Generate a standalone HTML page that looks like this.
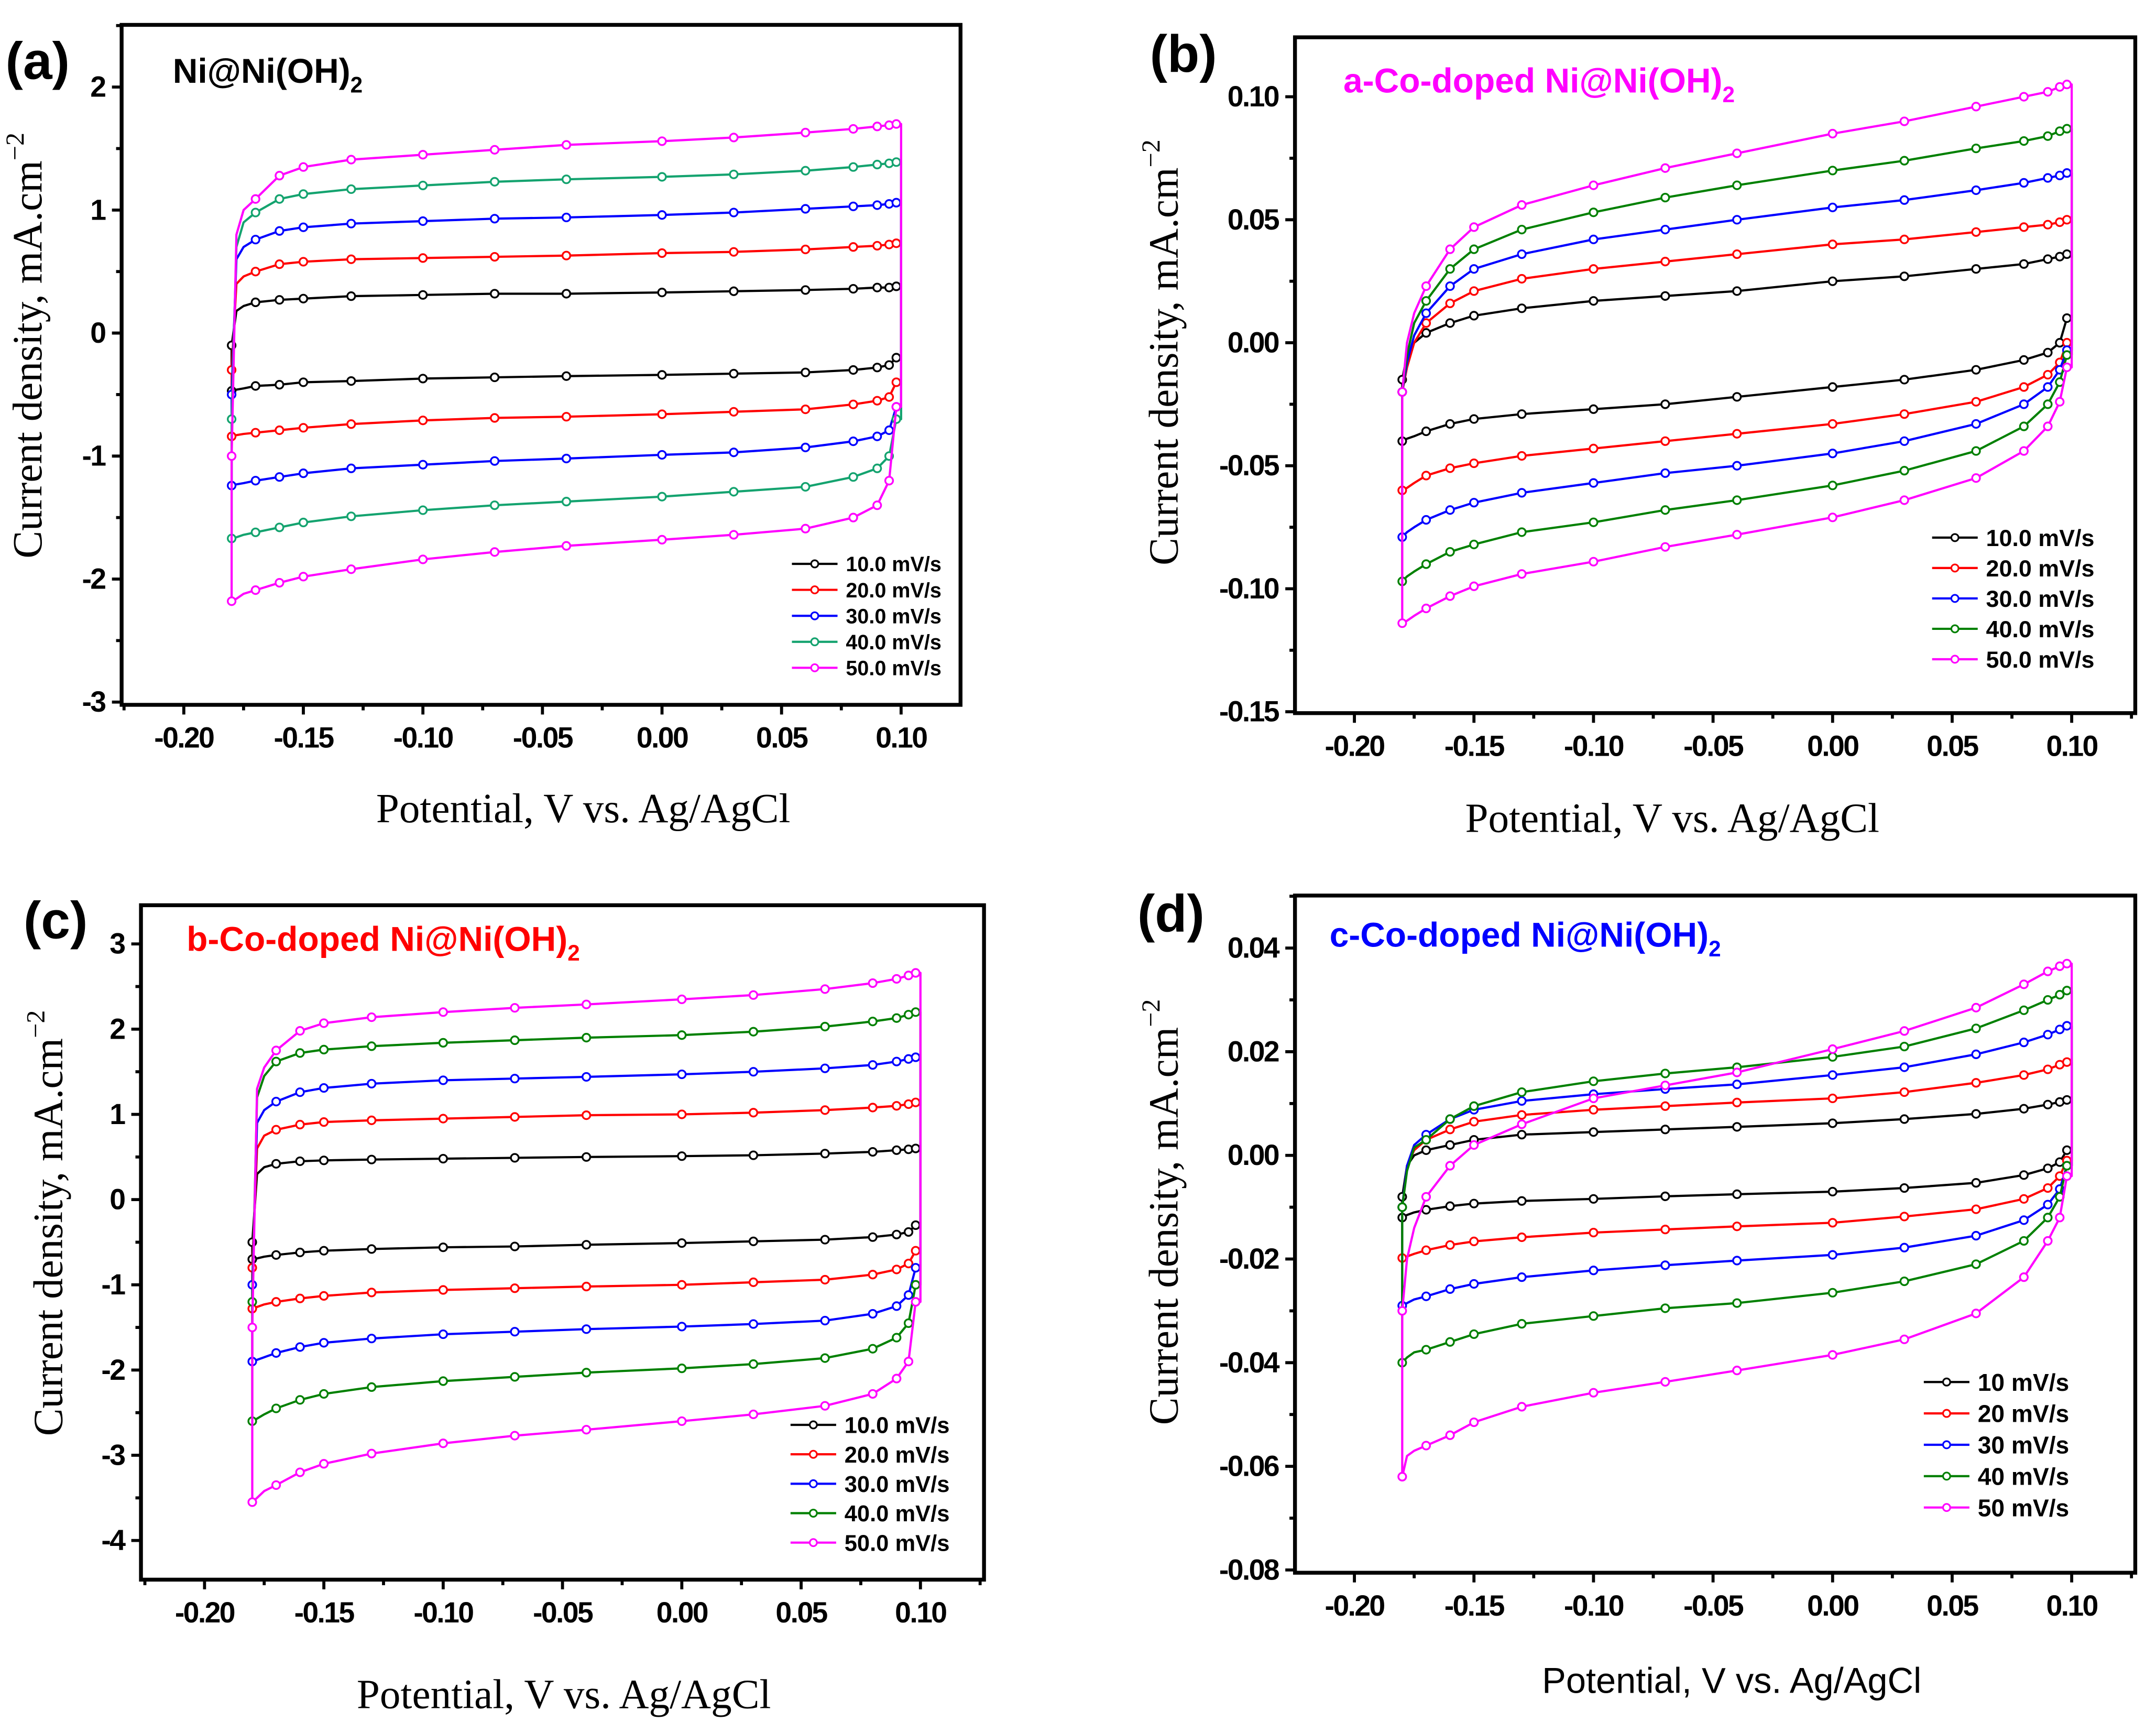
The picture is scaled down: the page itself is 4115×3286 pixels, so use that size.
<!DOCTYPE html>
<html><head><meta charset="utf-8">
<style>
html,body{margin:0;padding:0;background:#fff;}
svg{display:block;}
text{font-family:"Liberation Sans",sans-serif;}
.tk{font-weight:bold;font-size:21px;letter-spacing:-1px;}
.ser{font-family:"Liberation Serif",serif;}
</style></head>
<body>
<svg id="fig" width="4115" height="3286" viewBox="0 0 1560 1246" preserveAspectRatio="none" xmlns="http://www.w3.org/2000/svg">
<rect x="0" y="0" width="1560" height="1246" fill="#fff"/>
</svg>
<script>
const X = [-0.18,-0.178,-0.175,-0.17,-0.16,-0.15,-0.13,-0.1,-0.07,-0.04,0,0.03,0.06,0.08,0.09,0.095,0.098];
// Panel a
const aBlackUp=[-0.1,0.18,0.22,0.25,0.27,0.28,0.30,0.31,0.32,0.32,0.33,0.34,0.35,0.36,0.37,0.37,0.38];
const aBlackLo=[-0.47,-0.46,-0.45,-0.43,-0.42,-0.40,-0.39,-0.37,-0.36,-0.35,-0.34,-0.33,-0.32,-0.30,-0.28,-0.26,-0.2];
const aRedUp=[-0.3,0.4,0.46,0.5,0.56,0.58,0.6,0.61,0.62,0.63,0.65,0.66,0.68,0.70,0.71,0.72,0.73];
const aRedLo=[-0.84,-0.83,-0.82,-0.81,-0.79,-0.77,-0.74,-0.71,-0.69,-0.68,-0.66,-0.64,-0.62,-0.58,-0.55,-0.52,-0.4];
const aBlueUp=[-0.5,0.6,0.7,0.76,0.83,0.86,0.89,0.91,0.93,0.94,0.96,0.98,1.01,1.03,1.04,1.05,1.06];
const aBlueLo=[-1.24,-1.23,-1.22,-1.2,-1.17,-1.14,-1.1,-1.07,-1.04,-1.02,-0.99,-0.97,-0.93,-0.88,-0.84,-0.79,-0.6];
const aGreenUp=[-0.7,0.7,0.9,0.98,1.09,1.13,1.17,1.2,1.23,1.25,1.27,1.29,1.32,1.35,1.37,1.38,1.39];
const aGreenLo=[-1.67,-1.66,-1.64,-1.62,-1.58,-1.54,-1.49,-1.44,-1.40,-1.37,-1.33,-1.29,-1.25,-1.17,-1.1,-1.0,-0.7];
const aMagUp=[-1.0,0.8,1.0,1.09,1.28,1.35,1.41,1.45,1.49,1.53,1.56,1.59,1.63,1.66,1.68,1.69,1.70];
const aMagLo=[-2.18,-2.16,-2.12,-2.09,-2.03,-1.98,-1.92,-1.84,-1.78,-1.73,-1.68,-1.64,-1.59,-1.5,-1.4,-1.2,-0.6];
// Panel b
const bBlackUp=[-0.015,-0.005,0.0,0.004,0.008,0.011,0.014,0.017,0.019,0.021,0.025,0.027,0.03,0.032,0.034,0.035,0.036];
const bBlackLo=[-0.04,-0.039,-0.038,-0.036,-0.033,-0.031,-0.029,-0.027,-0.025,-0.022,-0.018,-0.015,-0.011,-0.007,-0.004,0.0,0.01];
const bRedUp=[-0.02,-0.01,0.0,0.008,0.016,0.021,0.026,0.030,0.033,0.036,0.040,0.042,0.045,0.047,0.048,0.049,0.050];
const bRedLo=[-0.06,-0.059,-0.057,-0.054,-0.051,-0.049,-0.046,-0.043,-0.040,-0.037,-0.033,-0.029,-0.024,-0.018,-0.013,-0.008,0.0];
const bBlueUp=[-0.02,-0.008,0.003,0.012,0.023,0.030,0.036,0.042,0.046,0.050,0.055,0.058,0.062,0.065,0.067,0.068,0.069];
const bBlueLo=[-0.079,-0.077,-0.075,-0.072,-0.068,-0.065,-0.061,-0.057,-0.053,-0.050,-0.045,-0.040,-0.033,-0.025,-0.018,-0.011,-0.003];
const bGreenUp=[-0.02,-0.005,0.008,0.017,0.030,0.038,0.046,0.053,0.059,0.064,0.070,0.074,0.079,0.082,0.084,0.086,0.087];
const bGreenLo=[-0.097,-0.095,-0.093,-0.09,-0.085,-0.082,-0.077,-0.073,-0.068,-0.064,-0.058,-0.052,-0.044,-0.034,-0.025,-0.016,-0.005];
const bMagUp=[-0.02,0.0,0.012,0.023,0.038,0.047,0.056,0.064,0.071,0.077,0.085,0.090,0.096,0.100,0.102,0.104,0.105];
const bMagLo=[-0.114,-0.113,-0.111,-0.108,-0.103,-0.099,-0.094,-0.089,-0.083,-0.078,-0.071,-0.064,-0.055,-0.044,-0.034,-0.024,-0.01];
// Panel c
const cBlackUp=[-0.5,0.3,0.38,0.42,0.45,0.46,0.47,0.48,0.49,0.5,0.51,0.52,0.54,0.56,0.58,0.59,0.6];
const cBlackLo=[-0.7,-0.69,-0.67,-0.65,-0.62,-0.6,-0.58,-0.56,-0.55,-0.53,-0.51,-0.49,-0.47,-0.44,-0.41,-0.38,-0.3];
const cRedUp=[-0.8,0.6,0.75,0.82,0.88,0.91,0.93,0.95,0.97,0.99,1.0,1.02,1.05,1.08,1.1,1.12,1.14];
const cRedLo=[-1.28,-1.26,-1.23,-1.2,-1.16,-1.13,-1.09,-1.06,-1.04,-1.02,-1.0,-0.97,-0.94,-0.88,-0.82,-0.75,-0.6];
const cBlueUp=[-1.0,0.9,1.05,1.15,1.26,1.31,1.36,1.4,1.42,1.44,1.47,1.5,1.54,1.58,1.62,1.65,1.67];
const cBlueLo=[-1.9,-1.88,-1.85,-1.8,-1.73,-1.68,-1.63,-1.58,-1.55,-1.52,-1.49,-1.46,-1.42,-1.34,-1.25,-1.12,-0.8];
const cGreenUp=[-1.2,1.2,1.45,1.62,1.72,1.76,1.8,1.84,1.87,1.9,1.93,1.97,2.03,2.09,2.13,2.17,2.2];
const cGreenLo=[-2.6,-2.57,-2.52,-2.45,-2.35,-2.28,-2.2,-2.13,-2.08,-2.03,-1.98,-1.93,-1.86,-1.75,-1.62,-1.45,-1.0];
const cMagUp=[-1.5,1.3,1.55,1.75,1.98,2.07,2.14,2.2,2.25,2.29,2.35,2.4,2.47,2.54,2.59,2.63,2.66];
const cMagLo=[-3.55,-3.5,-3.42,-3.35,-3.2,-3.1,-2.98,-2.86,-2.77,-2.7,-2.6,-2.52,-2.42,-2.28,-2.1,-1.9,-1.2];
// Panel d
const dBlackUp=[-0.008,-0.002,0.0,0.001,0.002,0.003,0.004,0.0045,0.005,0.0055,0.0062,0.007,0.008,0.009,0.0098,0.0103,0.0107];
const dBlackLo=[-0.012,-0.0115,-0.011,-0.0105,-0.0098,-0.0093,-0.0088,-0.0084,-0.0079,-0.0075,-0.007,-0.0063,-0.0053,-0.0038,-0.0025,-0.0013,0.001];
const dRedUp=[-0.01,-0.002,0.001,0.003,0.005,0.0065,0.0078,0.0088,0.0095,0.0102,0.011,0.0122,0.014,0.0155,0.0166,0.0175,0.018];
const dRedLo=[-0.0198,-0.0195,-0.019,-0.0183,-0.0173,-0.0166,-0.0158,-0.0149,-0.0143,-0.0137,-0.013,-0.0118,-0.0104,-0.0084,-0.0063,-0.004,-0.001];
const dBlueUp=[-0.01,-0.002,0.002,0.004,0.007,0.0088,0.0105,0.0118,0.0128,0.0137,0.0155,0.017,0.0195,0.0218,0.0233,0.0243,0.025];
const dBlueLo=[-0.029,-0.0285,-0.0278,-0.0272,-0.0258,-0.0248,-0.0235,-0.0222,-0.0212,-0.0203,-0.0192,-0.0178,-0.0155,-0.0125,-0.0095,-0.0065,-0.002];
const dGreenUp=[-0.01,-0.003,0.0015,0.003,0.007,0.0095,0.0122,0.0143,0.0158,0.017,0.019,0.021,0.0245,0.028,0.03,0.031,0.0318];
const dGreenLo=[-0.040,-0.039,-0.038,-0.0375,-0.036,-0.0345,-0.0325,-0.031,-0.0295,-0.0285,-0.0265,-0.0243,-0.021,-0.0165,-0.012,-0.008,-0.002];
const dMagUp=[-0.03,-0.02,-0.014,-0.008,-0.002,0.002,0.006,0.011,0.0135,0.016,0.0205,0.024,0.0285,0.033,0.0355,0.0365,0.037];
const dMagLo=[-0.062,-0.058,-0.057,-0.056,-0.054,-0.0515,-0.0485,-0.0458,-0.0437,-0.0415,-0.0385,-0.0355,-0.0305,-0.0235,-0.0165,-0.012,-0.004];

const xTickLabels=["-0.20","-0.15","-0.10","-0.05","0.00","0.05","0.10"];
const xTickVals=[-0.2,-0.15,-0.1,-0.05,0,0.05,0.1];
const aYTicks=[-3,-2,-1,0,1,2]; const aYLabels=["-3","-2","-1","0","1","2"];
const bYTicks=[-0.15,-0.1,-0.05,0,0.05,0.1]; const bYLabels=["-0.15","-0.10","-0.05","0.00","0.05","0.10"];
const cYTicks=[-4,-3,-2,-1,0,1,2,3]; const cYLabels=["-4","-3","-2","-1","0","1","2","3"];
const dYTicks=[-0.08,-0.06,-0.04,-0.02,0,0.02,0.04]; const dYLabels=["-0.08","-0.06","-0.04","-0.02","0.00","0.02","0.04"];
const legA=["10.0 mV/s","20.0 mV/s","30.0 mV/s","40.0 mV/s","50.0 mV/s"];
const legD=["10 mV/s","20 mV/s","30 mV/s","40 mV/s","50 mV/s"];

const NS="http://www.w3.org/2000/svg";
const svg=document.getElementById('fig');
function mk(tag,attrs,parent){const e=document.createElementNS(NS,tag);for(const k in attrs)e.setAttribute(k,attrs[k]);(parent||svg).appendChild(e);return e;}

function panel(cfg){
  const g=mk('g',{});
  
  
  const L=cfg.L,R=cfg.R,T=cfg.T,B=cfg.B;
  const sx=v=>cfg.x0px+(v-(-0.2))*(cfg.x1px-cfg.x0px)/0.3;
  const sy=v=>cfg.y0px+(v-cfg.y0v)*(cfg.y1px-cfg.y0px)/(cfg.y1v-cfg.y0v);
  cfg.series.forEach((s,i)=>{
    const up=s[0],lo=s[1],col=cfg.colors[i];
    let d='M'+sx(X[0])+','+sy(lo[0]);
    for(let k=0;k<X.length;k++) d+=' L'+sx(X[k])+','+sy(up[k]);
    d+=' L'+sx(0.1)+','+sy(up[X.length-1]);
    d+=' L'+sx(0.1)+','+sy(lo[X.length-1]);
    for(let k=X.length-1;k>=0;k--) d+=' L'+sx(X[k])+','+sy(lo[k]);
    const p=mk('path',{d:d,fill:'none',stroke:col,'stroke-width':1.6,'stroke-linejoin':'round'},g);
    
    
    for(let k=0;k<X.length;k++){
      if(k>=1&&k<=2) continue;
      [up[k],lo[k]].forEach(v=>{
        const c=mk('circle',{cx:sx(X[k]),cy:sy(v),r:2.8,fill:'#fff',stroke:col,'stroke-width':1.3},g);
        
        
      });
    }
  });
  const f=mk('rect',{x:L,y:T,width:R-L,height:B-T,fill:'none',stroke:'#000','stroke-width':2.8},g);
  
  
  xTickVals.forEach((v,i)=>{
    const x=sx(v);
    mk('line',{x1:x,x2:x,y1:B,y2:B+7,stroke:'#000','stroke-width':2.2},g);
    const xm=sx(v+0.025); if(xm<R) mk('line',{x1:xm,x2:xm,y1:B,y2:B+4,stroke:'#000','stroke-width':2.2},g);
    const t=mk('text',{x:x,y:B+31,'text-anchor':'middle',class:'tk'},g);
    t.textContent=xTickLabels[i];
    
    
  });
  const xm0=sx(-0.225); if(xm0>L) mk('line',{x1:xm0,x2:xm0,y1:B,y2:B+4,stroke:'#000','stroke-width':2.2},g);
  const step=cfg.yTicks[1]-cfg.yTicks[0];
  cfg.yTicks.forEach((v,i)=>{
    const y=sy(v);
    mk('line',{x1:L-7,x2:L,y1:y,y2:y,stroke:'#000','stroke-width':2.2},g);
    const ym=sy(v+step/2); if(ym>T) mk('line',{x1:L-4,x2:L,y1:ym,y2:ym,stroke:'#000','stroke-width':2.2},g);
    const t=mk('text',{x:L-12,y:y+7,'text-anchor':'end',class:'tk'},g);
    t.textContent=cfg.yLabels[i];
    
    
  });
  cfg.leg.forEach((lab,i)=>{
    const y=cfg.legY0+i*cfg.legDy;
    mk('line',{x1:cfg.legX,x2:cfg.legX+33,y1:y,y2:y,stroke:cfg.colors[i],'stroke-width':1.6},g);
    mk('circle',{cx:cfg.legX+16.5,cy:y,r:2.6,fill:'#fff',stroke:cfg.colors[i],'stroke-width':1.2},g);
    const t=mk('text',{x:cfg.legX+39,y:y+cfg.legFs*0.36,'font-weight':'bold','font-size':cfg.legFs},g);
    t.textContent=lab;
    
    
  });
  const pl=mk('text',{x:cfg.letX,y:cfg.letY,'font-weight':'bold','font-size':38},g);
  pl.textContent='('+cfg.id+')';
  
  
  const tt=mk('text',{x:cfg.titX,y:cfg.titY,'font-weight':'bold','font-size':25,fill:cfg.titCol},g);
  tt.innerHTML=cfg.title+'<tspan font-size="16" dy="7">2</tspan>';
  
  
  const yt=mk('text',{x:0,y:0,'text-anchor':'middle','font-size':30,class:'ser',transform:'translate('+cfg.ytX+','+cfg.ytY+') rotate(-90)'},g);
  yt.innerHTML='Current density, mA.cm<tspan font-size="19" dy="-13">−2</tspan>';
  
  
  const xt=mk('text',{x:cfg.xtX,y:cfg.xtY,'text-anchor':'middle','font-size':cfg.xtSans?26:30,class:cfg.xtSans?'':'ser'},g);
  xt.textContent='Potential, V vs. Ag/AgCl';
  
  
}

panel({id:'a',L:88,R:695,T:18,B:510,x0px:133,x1px:652,y0v:0,y0px:241,y1v:2,y1px:63,
  yTicks:aYTicks,yLabels:aYLabels,colors:['#000','#ff0000','#0000ff','#14a36f','#ff00ff'],
  series:[[aBlackUp,aBlackLo],[aRedUp,aRedLo],[aBlueUp,aBlueLo],[aGreenUp,aGreenLo],[aMagUp,aMagLo]],
  leg:legA,legX:573,legY0:408,legDy:18.8,legFs:15,letX:4,letY:57,titX:125,titY:60,titCol:'#000',title:'Ni@Ni(OH)',
  ytX:30,ytY:250,xtX:422,xtY:595});
panel({id:'b',L:937,R:1545,T:27,B:516,x0px:980,x1px:1499,y0v:0,y0px:248,y1v:0.1,y1px:70,
  yTicks:bYTicks,yLabels:bYLabels,colors:['#000','#ff0000','#0000ff','#008000','#ff00ff'],
  series:[[bBlackUp,bBlackLo],[bRedUp,bRedLo],[bBlueUp,bBlueLo],[bGreenUp,bGreenLo],[bMagUp,bMagLo]],
  leg:legA,legX:1398,legY0:389,legDy:22,legFs:17,letX:832,letY:52,titX:972,titY:67,titCol:'#ff00ff',title:'a-Co-doped Ni@Ni(OH)',
  ytX:852,ytY:255,xtX:1210,xtY:602});
panel({id:'c',L:102,R:712,T:655,B:1143,x0px:148,x1px:666,y0v:0,y0px:868,y1v:3,y1px:683,
  yTicks:cYTicks,yLabels:cYLabels,colors:['#000','#ff0000','#0000ff','#008000','#ff00ff'],
  series:[[cBlackUp,cBlackLo],[cRedUp,cRedLo],[cBlueUp,cBlueLo],[cGreenUp,cGreenLo],[cMagUp,cMagLo]],
  leg:legA,legX:572,legY0:1031,legDy:21.3,legFs:16.5,letX:17,letY:679,titX:135,titY:688,titCol:'#ff0000',title:'b-Co-doped Ni@Ni(OH)',
  ytX:45,ytY:885,xtX:408,xtY:1236});
panel({id:'d',L:937,R:1545,T:648,B:1138,x0px:980,x1px:1499,y0v:0,y0px:836,y1v:0.04,y1px:686,
  yTicks:dYTicks,yLabels:dYLabels,colors:['#000','#ff0000','#0000ff','#008000','#ff00ff'],
  series:[[dBlackUp,dBlackLo],[dRedUp,dRedLo],[dBlueUp,dBlueLo],[dGreenUp,dGreenLo],[dMagUp,dMagLo]],
  leg:legD,legX:1392,legY0:1000,legDy:22.7,legFs:17.5,letX:823,letY:674,titX:962,titY:685,titCol:'#0000ff',title:'c-Co-doped Ni@Ni(OH)',
  ytX:852,ytY:877,xtX:1253,xtY:1225,xtSans:true});
</script>
</body></html>
